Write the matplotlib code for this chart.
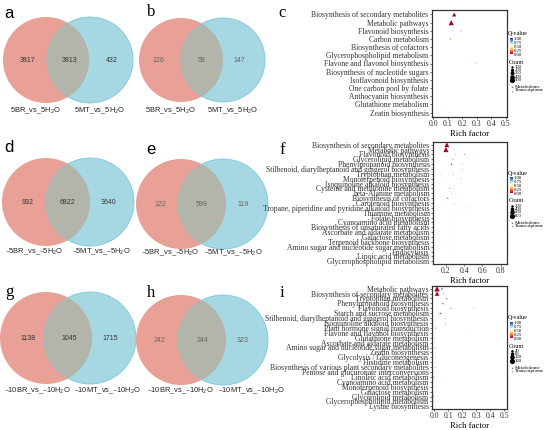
import numpy as np
import matplotlib.pyplot as plt
from matplotlib.patches import Circle
from matplotlib import cm, colors

# ---- Venn counts (left only, shared, right only) ----
venn_a = [3817, 3813, 432]
venn_b = [126, 58, 147]
venn_d = [932, 6822, 3640]
venn_e = [122, 599, 119]
venn_g = [1138, 1045, 1715]
venn_h = [242, 244, 323]

H2O = "H$_\\mathregular{2}$O"
names_5 = ["5BR_vs_5" + H2O, "5MT_vs_5" + H2O]
names_m5 = ["\u20135BR_vs_\u20135" + H2O, "\u20135MT_vs_\u20135" + H2O]
names_m10 = ["\u201310BR_vs_\u201310" + H2O, "\u201310MT_vs_\u201310" + H2O]

# ---- KEGG enrichment, panel c ----
c_terms = ["Biosynthesis of secondary metabolites", "Metabolic pathways",
           "Flavonoid biosynthesis", "Carbon metabolism", "Biosynthesis of cofactors",
           "Glycerophospholipid metabolism", "Flavone and flavonol biosynthesis",
           "Biosynthesis of nucleotide sugars", "Isoflavonoid biosynthesis",
           "One carbon pool by folate", "Anthocyanin biosynthesis",
           "Glutathione metabolism", "Zeatin biosynthesis"]
c_red = ["Flavonoid biosynthesis", "Biosynthesis of cofactors", "Anthocyanin biosynthesis"]
c_pt_term = ["Biosynthesis of secondary metabolites", "Metabolic pathways",
             "Biosynthesis of secondary metabolites", "Metabolic pathways",
             "Flavonoid biosynthesis", "Carbon metabolism", "Biosynthesis of cofactors",
             "Glycerophospholipid metabolism", "Flavone and flavonol biosynthesis",
             "Biosynthesis of nucleotide sugars", "Isoflavonoid biosynthesis",
             "One carbon pool by folate", "Anthocyanin biosynthesis",
             "Glutathione metabolism", "Zeatin biosynthesis"]
c_pt_rich = [0.145, 0.125, 0.02, 0.02, 0.19, 0.12, 0.02, 0.11, 0.30, 0.13, 0.16, 0.11, 0.07, 0.06, 0.08]
c_pt_q = [0.0, 0.0, 0.45, 0.5, 0.3, 0.25, 0.45, 0.5, 0.15, 0.5, 0.55, 0.5, 0.45, 0.35, 0.6]
c_pt_count = [300, 500, 20, 30, 40, 60, 20, 25, 15, 20, 15, 15, 20, 25, 15]
c_pt_omics = ["T", "T", "M", "M", "T", "T", "M", "T", "T", "T", "T", "T", "T", "T", "T"]
c_size_legend = [100, 200, 300, 400, 500]

# ---- panel f ----
f_terms = ["Biosynthesis of secondary metabolites", "Metabolic pathways",
           "Flavonoid biosynthesis", "Glycerolipid metabolism",
           "Phenylpropanoid biosynthesis",
           "Stilbenoid, diarylheptanoid and gingerol biosynthesis",
           "Tryptophan metabolism", "Monoterpenoid biosynthesis",
           "Isoquinoline alkaloid biosynthesis", "Cysteine and methionine metabolism",
           "beta-Alanine metabolism", "Biosynthesis of cofactors",
           "Carotenoid biosynthesis",
           "Tropane, piperidine and pyridine alkaloid biosynthesis",
           "Thiamine metabolism", "Folate biosynthesis", "Cyanoamino acid metabolism",
           "Biosynthesis of unsaturated fatty acids", "Ascorbate and aldarate metabolism",
           "Galactose metabolism", "Terpenoid backbone biosynthesis",
           "Amino sugar and nucleotide sugar metabolism", "Endocytosis",
           "Lipoic acid metabolism", "Glycerophospholipid metabolism"]
f_red = ["Flavonoid biosynthesis", "Phenylpropanoid biosynthesis",
         "Glycerophospholipid metabolism"]
f_pt_term = ["Biosynthesis of secondary metabolites", "Metabolic pathways",
             "Flavonoid biosynthesis", "Flavonoid biosynthesis",
             "Glycerolipid metabolism", "Glycerolipid metabolism",
             "Phenylpropanoid biosynthesis", "Phenylpropanoid biosynthesis",
             "Stilbenoid, diarylheptanoid and gingerol biosynthesis",
             "Stilbenoid, diarylheptanoid and gingerol biosynthesis",
             "Tryptophan metabolism", "Tryptophan metabolism",
             "Monoterpenoid biosynthesis", "Monoterpenoid biosynthesis",
             "Isoquinoline alkaloid biosynthesis",
             "Cysteine and methionine metabolism", "Cysteine and methionine metabolism",
             "beta-Alanine metabolism", "beta-Alanine metabolism",
             "Biosynthesis of cofactors",
             "Carotenoid biosynthesis", "Carotenoid biosynthesis",
             "Tropane, piperidine and pyridine alkaloid biosynthesis",
             "Tropane, piperidine and pyridine alkaloid biosynthesis",
             "Thiamine metabolism", "Thiamine metabolism", "Folate biosynthesis",
             "Cyanoamino acid metabolism", "Cyanoamino acid metabolism",
             "Biosynthesis of unsaturated fatty acids", "Ascorbate and aldarate metabolism",
             "Galactose metabolism", "Terpenoid backbone biosynthesis",
             "Terpenoid backbone biosynthesis",
             "Amino sugar and nucleotide sugar metabolism",
             "Amino sugar and nucleotide sugar metabolism", "Endocytosis",
             "Lipoic acid metabolism", "Glycerophospholipid metabolism",
             "Glycerophospholipid metabolism"]
f_pt_rich = [0.21, 0.20, 0.40, 0.30, 0.27, 0.11, 0.26, 0.38, 0.38, 0.84, 0.28, 0.15,
             0.36, 0.17, 0.37, 0.24, 0.28, 0.30, 0.26, 0.22, 0.29, 0.20, 0.33, 0.43,
             0.30, 0.50, 0.29, 0.24, 0.50, 0.28, 0.24, 0.24, 0.23, 0.15, 0.20, 0.15,
             0.24, 0.24, 0.22, 0.10]
f_pt_q = [0.0, 0.0, 0.05, 0.8, 0.1, 0.6, 0.02, 0.3, 0.05, 0.3, 0.05, 0.8,
          0.05, 0.7, 0.05, 0.1, 0.6, 0.08, 0.85, 0.05, 0.1, 0.7, 0.15, 0.85,
          0.2, 0.6, 0.25, 0.3, 0.55, 0.25, 0.3, 0.3, 0.3, 0.8, 0.3, 0.7,
          0.35, 0.35, 0.35, 0.6]
f_pt_count = [700, 800, 40, 30, 30, 20, 80, 30, 20, 20, 25, 20,
              12, 15, 15, 40, 20, 20, 15, 60, 20, 15, 10, 15,
              12, 10, 12, 15, 10, 12, 15, 15, 15, 10, 30, 15,
              30, 6, 20, 15]
f_pt_omics = ["T", "T", "T", "M", "T", "M", "T", "M", "T", "M", "T", "M",
              "T", "M", "T", "T", "M", "T", "M", "T", "T", "M", "T", "M",
              "T", "M", "T", "T", "M", "T", "T", "T", "T", "M", "T", "M",
              "T", "T", "T", "M"]
f_size_legend = [200, 400, 600, 800]

# ---- panel i ----
i_terms = ["Metabolic pathways", "Biosynthesis of secondary metabolites",
           "Tryptophan metabolism", "Phenylpropanoid biosynthesis",
           "Flavonoid biosynthesis", "Starch and sucrose metabolism",
           "Stilbenoid, diarylheptanoid and gingerol biosynthesis",
           "Isoquinoline alkaloid biosynthesis", "Plant hormone signal transduction",
           "Flavone and flavonol biosynthesis", "Glutathione metabolism",
           "Ascorbate and aldarate metabolism",
           "Amino sugar and nucleotide sugar metabolism", "Zeatin biosynthesis",
           "Glycolysis / Gluconeogenesis", "Histidine metabolism",
           "Biosynthesis of various plant secondary metabolites",
           "Pentose and glucuronate interconversions", "Linoleic acid metabolism",
           "Cyanoamino acid metabolism", "Monoterpenoid biosynthesis",
           "Galactose metabolism", "Glycerolipid metabolism",
           "Glycerophospholipid metabolism", "Lysine biosynthesis"]
i_red = ["Phenylpropanoid biosynthesis", "Flavonoid biosynthesis",
         "Starch and sucrose metabolism", "Flavone and flavonol biosynthesis",
         "Amino sugar and nucleotide sugar metabolism", "Linoleic acid metabolism",
         "Glycerolipid metabolism", "Glycerophospholipid metabolism"]
i_pt_term = ["Metabolic pathways", "Metabolic pathways",
             "Biosynthesis of secondary metabolites", "Biosynthesis of secondary metabolites",
             "Tryptophan metabolism", "Phenylpropanoid biosynthesis",
             "Flavonoid biosynthesis", "Flavonoid biosynthesis",
             "Starch and sucrose metabolism",
             "Stilbenoid, diarylheptanoid and gingerol biosynthesis",
             "Isoquinoline alkaloid biosynthesis", "Plant hormone signal transduction",
             "Flavone and flavonol biosynthesis", "Flavone and flavonol biosynthesis",
             "Glutathione metabolism", "Ascorbate and aldarate metabolism",
             "Amino sugar and nucleotide sugar metabolism", "Zeatin biosynthesis",
             "Glycolysis / Gluconeogenesis", "Histidine metabolism",
             "Biosynthesis of various plant secondary metabolites",
             "Pentose and glucuronate interconversions", "Linoleic acid metabolism",
             "Cyanoamino acid metabolism", "Monoterpenoid biosynthesis",
             "Galactose metabolism", "Glycerolipid metabolism",
             "Glycerophospholipid metabolism", "Lysine biosynthesis"]
i_pt_rich = [0.02, 0.055, 0.02, 0.065, 0.09, 0.062, 0.12, 0.28, 0.043, 0.08, 0.08, 0.01,
             0.24, 0.49, 0.005, 0.005, 0.005, 0.008, 0.006, 0.005, 0.006, 0.005,
             -0.005, 0.005, 0.006, 0.005, -0.005, -0.005, 0.006]
i_pt_q = [0.0, 0.85, 0.0, 0.7, 0.02, 0.03, 0.05, 0.3, 0.05, 0.1, 0.1, 0.25,
          0.3, 0.3, 0.8, 0.75, 0.8, 0.8, 0.85, 0.8, 0.9, 0.85,
          0.25, 0.85, 0.8, 0.85, 0.25, 0.3, 0.85]
i_pt_count = [180, 20, 120, 12, 12, 15, 8, 6, 18, 5, 6, 20,
              3, 3, 10, 6, 10, 4, 6, 5, 6, 5,
              15, 5, 5, 6, 15, 12, 5]
i_pt_omics = ["T", "M", "T", "M", "T", "T", "T", "M", "T", "T", "T", "T",
              "T", "M", "T", "T", "T", "T", "T", "T", "T", "T",
              "M", "T", "T", "T", "M", "M", "T"]
i_size_legend = [40, 80, 120, 160]

W, H = 550, 430
fig = plt.figure(figsize=(5.5, 4.3), dpi=100)
canvas = fig.add_axes([0, 0, 1, 1])
canvas.set_xlim(0, W)
canvas.set_ylim(H, 0)
canvas.axis("off")

SANS = ["Liberation Sans", "DejaVu Sans"]
SERIF = ["Liberation Serif", "DejaVu Serif"]
cmap = plt.get_cmap("RdYlBu")
norm = colors.Normalize(0, 1)


def venn(cx1, cx2, cy, r, counts, names, name_x, name_y, num_x, numcol):
    left = Circle((cx1, cy), r, fc="#E9A096", ec="none")
    right = Circle((cx2, cy), r, fc="#A6D8E3", ec="#7CC8D8", lw=0.6)
    canvas.add_patch(left)
    canvas.add_patch(right)
    inter = Circle((cx1, cy), r, fc="#B3B4AA", ec="none")
    canvas.add_patch(inter)
    inter.set_clip_path(right)
    for x, v in zip(num_x, counts):
        canvas.text(x, cy, str(v), fontsize=5, family=SANS, color=numcol,
                    ha="center", va="center")
    for x, s in zip(name_x, names):
        canvas.text(x, name_y, s, fontsize=5.4, family=SANS, color="#222222",
                    ha="center", va="center")


venn(46, 90, 60, 43, venn_a, names_5, [35, 100], 111, [27, 70, 112], "#333333")
venn(181, 223, 60, 42, venn_b, names_5, [170, 233], 111, [158, 202, 239], "#666666")
venn(46, 90, 202, 44, venn_d, names_m5, [34, 101], 252, [28, 68, 108], "#333333")
venn(181, 223, 204, 45, venn_e, names_m5, [170, 233], 253, [160, 202, 243], "#666666")
venn(46, 90, 338, 46, venn_g, names_m10, [37, 107], 391, [28, 69, 110], "#333333")
venn(181, 223, 340, 45, venn_h, names_m10, [180, 251], 391, [160, 202, 243], "#666666")

for letter, x, y, fam in [("a", 9, 13, SANS), ("b", 151, 12, SERIF), ("c", 282, 13, SERIF),
                          ("d", 9, 147, SANS), ("e", 151, 150, SANS), ("f", 282, 150, SERIF),
                          ("g", 9, 292, SERIF), ("h", 151, 293, SERIF), ("i", 282, 293, SERIF)]:
    canvas.text(x, y, letter, fontsize=12, family=fam, ha="center", va="center")


def size_of(count, cmax):
    return np.asarray(count, dtype=float) / cmax * 14


def dotplot(box, terms, red, pt_term, pt_rich, pt_q, pt_count, pt_omics,
            xlim, xticks, size_legend, leg_top):
    l, t, r, b = box
    ax = fig.add_axes([l / W, 1 - b / H, (r - l) / W, (b - t) / H])
    ypos = np.array([terms.index(s) for s in pt_term])
    rich = np.array(pt_rich)
    q = np.array(pt_q)
    cnt = np.array(pt_count)
    om = np.array(pt_omics)
    cmax = size_legend[-1]
    for code, mk in [("M", "o"), ("T", "^")]:
        m = om == code
        ax.scatter(rich[m], ypos[m], c=q[m], cmap=cmap, norm=norm,
                   s=size_of(cnt[m], cmax), marker=mk, linewidths=0, zorder=3)
    n = len(terms)
    ax.set_ylim(n - 0.45, -0.55)
    ax.set_xlim(*xlim)
    ax.set_yticks(range(n))
    ax.set_yticklabels(terms, family=SERIF, fontsize=5.5)
    for lab, s in zip(ax.get_yticklabels(), terms):
        lab.set_color("#E8603C" if s in red else "#222222")
    ax.set_xticks(xticks)
    ax.set_xticklabels([f"{v:.1f}" for v in xticks], family=SERIF, fontsize=5.6)
    ax.tick_params(length=1.5, width=0.5, pad=1, colors="#333333")
    ax.set_xlabel("Rich factor", family=SERIF, fontsize=6.2, labelpad=1)
    for sp in ax.spines.values():
        sp.set_color("#333333")
        sp.set_linewidth(0.9)

    # legend column
    lx = 510
    canvas.text(lx - 2, leg_top, "Q-value", family=SERIF, fontsize=4.4, va="center")
    cax = fig.add_axes([lx / W, 1 - (leg_top + 20) / H, 3 / W, 16 / H])
    cb = fig.colorbar(cm.ScalarMappable(norm=norm, cmap=cmap), cax=cax)
    cb.set_ticks([0, 0.25, 0.5, 0.75, 1.0])
    cb.set_ticklabels(["0.00", "0.25", "0.50", "0.75", "1.00"])
    cb.ax.tick_params(labelsize=3.4, length=0, pad=0.5)
    for lab in cb.ax.get_yticklabels():
        lab.set_family(SERIF)
    cb.outline.set_visible(False)
    cy0 = leg_top + 28
    canvas.text(lx - 1, cy0, "Count", family=SERIF, fontsize=4.4, va="center")
    for k, v in enumerate(size_legend):
        yy = cy0 + 5 + k * 3.2
        canvas.scatter([lx + 2], [yy], s=size_of(v, cmax), c="black", linewidths=0)
        canvas.text(lx + 5, yy, str(v), family=SERIF, fontsize=3.4, va="center")
    sy = cy0 + 9 + len(size_legend) * 3.2
    canvas.scatter([lx + 2], [sy], s=1.2, c="#777777", marker="o", linewidths=0)
    canvas.text(lx + 5, sy, "Metabolome", family=SERIF, fontsize=3.6, va="center")
    canvas.scatter([lx + 2], [sy + 3.5], s=1.2, c="#777777", marker="^", linewidths=0)
    canvas.text(lx + 5, sy + 3.5, "Transcriptome", family=SERIF, fontsize=3.6, va="center")
    return ax


dotplot((432, 10, 507, 117), c_terms, c_red, c_pt_term, c_pt_rich, c_pt_q,
        c_pt_count, c_pt_omics, (-0.007, 0.507), [0, 0.1, 0.2, 0.3, 0.4, 0.5],
        c_size_legend, 34)
dotplot((433, 142, 507, 264), f_terms, f_red, f_pt_term, f_pt_rich, f_pt_q,
        f_pt_count, f_pt_omics, (0.058, 0.87), [0.2, 0.4, 0.6, 0.8],
        f_size_legend, 173)
dotplot((432, 286, 507, 409), i_terms, i_red, i_pt_term, i_pt_rich, i_pt_q,
        i_pt_count, i_pt_omics, (-0.016, 0.52), [0, 0.1, 0.2, 0.3, 0.4, 0.5],
        i_size_legend, 318)

fig.savefig("out.png", dpi=100)
